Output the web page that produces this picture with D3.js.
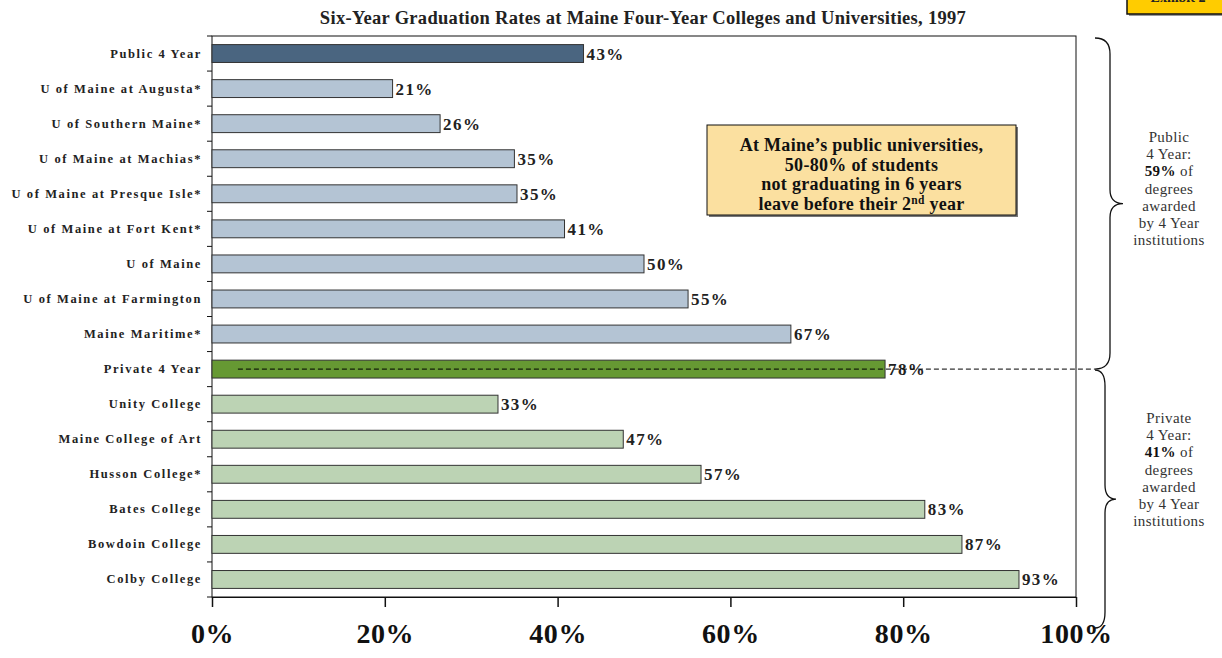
<!DOCTYPE html>
<html>
<head>
<meta charset="utf-8">
<script src="https://cdn.jsdelivr.net/npm/d3@7"></script>
<style>
  body { margin: 0; background: #fff; }
  #chart { width: 1222px; height: 658px; }
  text { font-family: "Liberation Serif", "DejaVu Serif", serif; }
</style>
</head>
<body>
<div id="chart"></div>
<script>
// chart data
const categories = [
  "Public 4 Year", "U of Maine at Augusta*", "U of Southern Maine*", "U of Maine at Machias*",
  "U of Maine at Presque Isle*", "U of Maine at Fort Kent*", "U of Maine", "U of Maine at Farmington",
  "Maine Maritime*", "Private 4 Year", "Unity College", "Maine College of Art", "Husson College*",
  "Bates College", "Bowdoin College", "Colby College"
];
const values = [43, 20.9, 26.4, 35, 35.3, 40.8, 50, 55.1, 67, 77.9, 33.1, 47.6, 56.6, 82.5, 86.8, 93.4];
const valueLabels = ["43%", "21%", "26%", "35%", "35%", "41%", "50%", "55%", "67%", "78%", "33%", "47%", "57%", "83%", "87%", "93%"];
const rowKind = ["pubTotal", "pub", "pub", "pub", "pub", "pub", "pub", "pub", "pub",
  "privTotal", "priv", "priv", "priv", "priv", "priv", "priv"];
const xTicks = [0, 20, 40, 60, 80, 100];
const title = "Six-Year Graduation Rates at Maine Four-Year Colleges and Universities, 1997";
const noteLines = ["At Maine\u2019s public universities,", "50-80% of students", "not graduating in 6 years", "leave before their 2"];
const publicNote = ["Public", "4 Year:", "59%| of", "degrees", "awarded", "by 4 Year", "institutions"];
const privateNote = ["Private", "4 Year:", "41%| of", "degrees", "awarded", "by 4 Year", "institutions"];

const W = 1222, H = 658;
const margin = {top: 36, right: 146, bottom: 61, left: 212};

const fills = {pubTotal: "#4a6580", pub: "#b4c4d4", privTotal: "#669933", priv: "#bcd3b4"};

const svg = d3.select("#chart").append("svg")
  .attr("width", W).attr("height", H);

// exhibit tag, top right (cut off by the page edge as in the original)
svg.append("rect").attr("x", 1129).attr("y", 3).attr("width", 96).attr("height", 13).attr("fill", "#999");
svg.append("rect").attr("x", 1127).attr("y", -4).attr("width", 98).attr("height", 18)
  .attr("fill", "#ffcc00").attr("stroke", "#111").attr("stroke-width", 1.5);
svg.append("text").attr("x", 1178).attr("y", 2).attr("text-anchor", "middle")
  .attr("font-size", 14).attr("font-weight", "bold").attr("fill", "#222").text("Exhibit 2");

const x = d3.scaleLinear().domain([0, 100]).range([margin.left, W - margin.right]);
const y = d3.scaleBand().domain(categories)
  .range([margin.top, H - margin.bottom])
  .paddingInner(0.49).paddingOuter(0.245);

// title
svg.append("text")
  .attr("x", 643).attr("y", 24)
  .attr("text-anchor", "middle").attr("font-size", 18.5).attr("font-weight", "bold")
  .attr("letter-spacing", 0.3).attr("fill", "#222").text(title);

// frame
svg.append("rect")
  .attr("x", x(0)).attr("y", margin.top)
  .attr("width", x(100) - x(0)).attr("height", H - margin.bottom - margin.top)
  .attr("fill", "none").attr("stroke", "#111").attr("stroke-width", 1);

// bars
svg.selectAll("rect.bar").data(categories).join("rect")
  .attr("class", "bar")
  .attr("x", x(0))
  .attr("y", d => y(d))
  .attr("width", (d, i) => x(values[i]) - x(0))
  .attr("height", y.bandwidth())
  .attr("fill", (d, i) => fills[rowKind[i]])
  .attr("stroke", "#333").attr("stroke-width", 1);

// value labels
svg.selectAll("text.val").data(categories).join("text")
  .attr("class", "val")
  .attr("x", (d, i) => x(values[i]) + 3)
  .attr("y", d => y(d) + y.bandwidth() / 2 + 6)
  .attr("font-size", 17).attr("font-weight", "bold").attr("letter-spacing", 1.4)
  .attr("fill", "#222")
  .text((d, i) => valueLabels[i]);

// y axis: ticks between categories, labels on the left
const step = y.step();
const bounds = d3.range(categories.length + 1).map(i => margin.top + i * step);
svg.selectAll("line.ytick").data(bounds).join("line")
  .attr("class", "ytick")
  .attr("x1", x(0) - 5).attr("x2", x(0))
  .attr("y1", d => d).attr("y2", d => d)
  .attr("stroke", "#111");
svg.selectAll("text.cat").data(categories).join("text")
  .attr("class", "cat")
  .attr("x", x(0) - 10)
  .attr("y", d => y(d) + y.bandwidth() / 2 + 4)
  .attr("text-anchor", "end").attr("font-size", 12.5).attr("font-weight", "bold")
  .attr("letter-spacing", 1.6).attr("fill", "#222")
  .text(d => d);

// x axis
const xAxis = d3.axisBottom(x).tickValues(xTicks).tickSize(10).tickFormat(d => d + "%");
const gx = svg.append("g").attr("transform", `translate(0,${H - margin.bottom})`).call(xAxis);
gx.select(".domain").attr("stroke", "#111");
gx.selectAll(".tick line").attr("stroke", "#111").attr("stroke-width", 1.5);
gx.selectAll(".tick text")
  .attr("y", 26).attr("dy", "0.71em")
  .attr("font-family", "'Liberation Serif', serif").attr("font-size", 28).attr("font-weight", "bold")
  .attr("letter-spacing", 0.6).attr("fill", "#111");

// dashed reference line through the private average
const privY = y("Private 4 Year") + y.bandwidth() / 2;
svg.append("line")
  .attr("x1", x(3)).attr("x2", x(100) + 19)
  .attr("y1", privY).attr("y2", privY)
  .attr("stroke", "#000").attr("stroke-dasharray", "5,3");

// braces
function brace(x0, top, bottom, depth, tip) {
  const mid = (top + bottom) / 2;
  const xv = x0 + depth, xt = xv + tip;
  return `M${x0},${top} Q${xv},${top} ${xv},${top + 16} L${xv},${mid - 14} Q${xv},${mid} ${xt},${mid}` +
    ` Q${xv},${mid} ${xv},${mid + 14} L${xv},${bottom - 16} Q${xv},${bottom} ${x0},${bottom}`;
}
svg.append("path").attr("d", brace(x(100) + 19, margin.top + 2, privY, 15, 13))
  .attr("fill", "none").attr("stroke", "#111").attr("stroke-width", 1.3);
svg.append("path").attr("d", brace(x(100) + 19, privY + 1, H - 30, 10, 11))
  .attr("fill", "none").attr("stroke", "#111").attr("stroke-width", 1.3);

// side notes
function sideNote(lines, y0) {
  const t = svg.append("text").attr("text-anchor", "middle").attr("font-size", 15)
    .attr("letter-spacing", 0.4).attr("fill", "#333");
  lines.forEach((ln, i) => {
    const ts = t.append("tspan").attr("x", 1169).attr("y", y0 + i * 17.2);
    if (ln.includes("|")) {
      const [b, r] = ln.split("|");
      ts.append("tspan").attr("font-weight", "bold").attr("fill", "#111").text(b);
      ts.append("tspan").text(r);
    } else ts.text(ln);
  });
}
sideNote(publicNote, 142);
sideNote(privateNote, 423);

// call-out box
const bx = 707, bw = 309, by = 125, bh = 90;
svg.append("rect").attr("x", bx + 2).attr("y", by + 2).attr("width", bw).attr("height", bh).attr("fill", "#777");
svg.append("rect").attr("x", bx).attr("y", by).attr("width", bw).attr("height", bh)
  .attr("fill", "#fbe0a0").attr("stroke", "#111").attr("stroke-width", 1);
const note = svg.append("text").attr("text-anchor", "middle").attr("font-size", 18)
  .attr("letter-spacing", 0.3).attr("font-weight", "bold").attr("fill", "#111");
noteLines.forEach((ln, i) => {
  const ts = note.append("tspan").attr("x", bx + bw / 2).attr("y", by + 26 + i * 19.5).text(ln);
  if (i === noteLines.length - 1) {
    ts.append("tspan").attr("font-size", 11.5).attr("dy", -6).text("nd");
    ts.append("tspan").attr("dy", 6).text(" year");
  }
});
</script>
</body>
</html>
